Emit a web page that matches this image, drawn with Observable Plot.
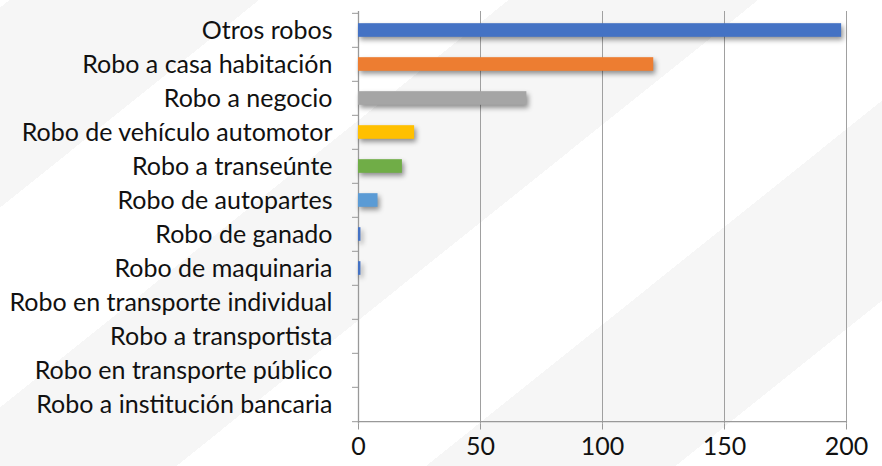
<!DOCTYPE html>
<html>
<head>
<meta charset="utf-8">
<script src="https://cdn.jsdelivr.net/npm/d3@7"></script>
<script src="https://cdn.jsdelivr.net/npm/@observablehq/plot@0.6"></script>
<style>
  html, body { margin: 0; padding: 0; }
  body {
    width: 882px; height: 466px; overflow: hidden;
    background: repeating-linear-gradient(141.3deg, #ffffff 0px 6px, #f6f6f6 6px 162px, #ffffff 162px 312px);
  }
  g[aria-label="bar"] { filter: drop-shadow(2px 3px 2.5px rgba(0,0,0,0.42)); }
</style>
</head>
<body>
<div id="chart"></div>
<script>
const categories = [
  "Otros robos",
  "Robo a casa habitación",
  "Robo a negocio",
  "Robo de vehículo automotor",
  "Robo a transeúnte",
  "Robo de autopartes",
  "Robo de ganado",
  "Robo de maquinaria",
  "Robo en transporte individual",
  "Robo a transportista",
  "Robo en transporte público",
  "Robo a institución bancaria"
];
const values = [198, 121, 69, 23, 18, 8, 1, 1, 0, 0, 0, 0];
const colors = ["#4472C4", "#ED7D31", "#A5A5A5", "#FFC000", "#70AD47", "#5B9BD5",
                "#4472C4", "#4472C4", "#4472C4", "#4472C4", "#4472C4", "#4472C4"];
const xTicks = [0, 50, 100, 150, 200];

const data = categories.map((c, i) => ({category: c, value: values[i], color: colors[i]}));

const W = 882, H = 466, mT = 11, mB = 42.5, mL = 358, mR = 36;
const step = (H - mT - mB) / categories.length;
const barH = 14;
const inset = (step - barH) / 2;
const last = categories[categories.length - 1];
const xDomain = [0, 200];

const chart = Plot.plot({
  width: W, height: H,
  marginLeft: mL, marginRight: mR, marginTop: mT, marginBottom: mB,
  style: {background: "transparent", fontFamily: "Lato, sans-serif", fontSize: "25px", color: "#111"},
  x: {domain: xDomain, label: null},
  y: {domain: categories, padding: 0, label: null},
  marks: [
    Plot.gridX(xTicks.filter(d => d > 0), {stroke: "#a0a0a0", strokeOpacity: 1}),
    Plot.ruleX([0], {stroke: "#999", strokeWidth: 1.3}),
    Plot.line(xDomain, {x: d => d, y: () => last, dy: step / 2, stroke: "#999", strokeWidth: 1.3}),
    Plot.barX(data, {x: "value", y: "category", fill: "color", insetTop: inset, insetBottom: inset}),
    Plot.axisX({ticks: xTicks, tickSize: 6, tickPadding: 7, stroke: "#999", fill: "#111", label: null}),
    Plot.axisY({tickSize: 6, tickFormat: () => "", dy: -step / 2, stroke: "#999", label: null}),
    Plot.axisY({ticks: [last], tickSize: 6, tickFormat: () => "", dy: step / 2, stroke: "#999", label: null}),
    Plot.axisY({tickSize: 0, tickPadding: 26, fill: "#111", label: null})
  ]
});
document.getElementById("chart").appendChild(chart);
</script>
</body>
</html>
